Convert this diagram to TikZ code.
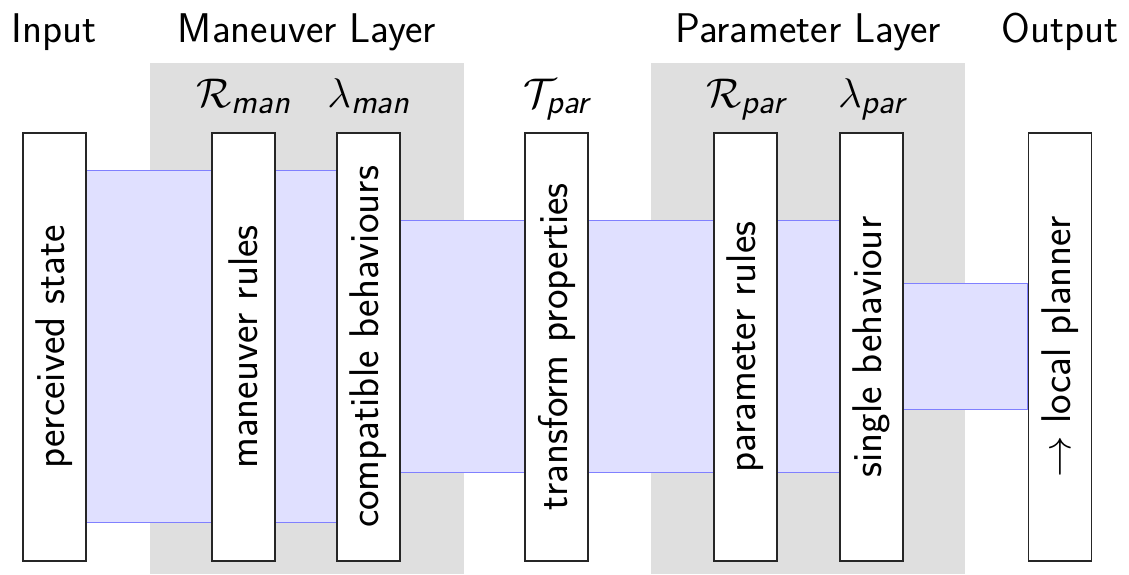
\RequirePackage{fix-cm}
\documentclass[tikz,border=0pt]{standalone}
\usepackage{amsmath}
\usepackage{fontspec}
\renewcommand{\familydefault}{\sfdefault}
\usetikzlibrary{backgrounds}
\DeclareMathSizes{41.5}{41.5}{34.5}{28}
\newcommand{\bigfont}{\fontsize{41.5}{46}\selectfont}
\tikzset{
  lay/.style={fill=gray!25, draw=none, inner sep=0pt, anchor=north west},
  band/.style={fill=blue!12, draw=blue!50, line width=0.8pt},
  box/.style={draw=black!85, fill=white, line width=1.3pt, rotate=90,
    minimum width=428pt, minimum height=63pt, inner sep=0pt, font=\bigfont},
  head/.style={anchor=base, font=\bigfont, inner sep=0pt},
  sym/.style={anchor=base, font=\bigfont, inner sep=0pt},
}
\begin{document}
\begin{tikzpicture}[x=1pt, y=-1pt]
\useasboundingbox (0,0) rectangle (1129,574);
% boxes
\node[box] (b1) at (54.5,347) {perceived state};
\node[box] (b2) at (243.5,347) {maneuver rules};
\node[box] (b3) at (368.5,347) {compatible behaviours};
\node[box] (b4) at (556.5,347) {transform properties};
\node[box] (b5) at (745.5,347) {parameter rules};
\node[box] (b6) at (871.5,347) {single behaviour};
\node[box] (b7) at (1060,347) {$\rightarrow$ local planner};
\begin{pgfonlayer}{background}
  \node[lay, minimum width=314pt, minimum height=511pt] (L1) at (150,63) {};
  \node[lay, minimum width=314pt, minimum height=511pt] (L2) at (651,63) {};
  \draw[band] (b1.south |- 0,170) rectangle (b2.north |- 0,522);
  \draw[band] (b2.south |- 0,170) rectangle (b3.north |- 0,522);
  \draw[band] (b3.south |- 0,220) rectangle (b4.north |- 0,472);
  \draw[band] (b4.south |- 0,220) rectangle (b5.north |- 0,472);
  \draw[band] (b5.south |- 0,220) rectangle (b6.north |- 0,472);
  \draw[band] (b6.south |- 0,283) rectangle (b7.north |- 0,409);
\end{pgfonlayer}
% headers
\node[head] (hin) at (54.5,42) {Input};
\node[head] (hman) at (307,42) {Maneuver Layer};
\node[head] (hpar) at (808,42) {Parameter Layer};
\node[head] (hout) at (1060,42) {Output};
% symbols
\node[sym] (sRman) at (243.5,107) {$\mathcal{R}_{\textsf{\itshape man}}$};
\node[sym] (slman) at (368.5,107) {$\lambda_{\textsf{\itshape man}}$};
\node[sym] (sTpar) at (556.5,107) {$\mathcal{T}_{\textsf{\itshape par}}$};
\node[sym] (sRpar) at (745.5,107) {$\mathcal{R}_{\textsf{\itshape par}}$};
\node[sym] (slpar) at (871.5,107) {$\lambda_{\textsf{\itshape par}}$};
\end{tikzpicture}
\end{document}
